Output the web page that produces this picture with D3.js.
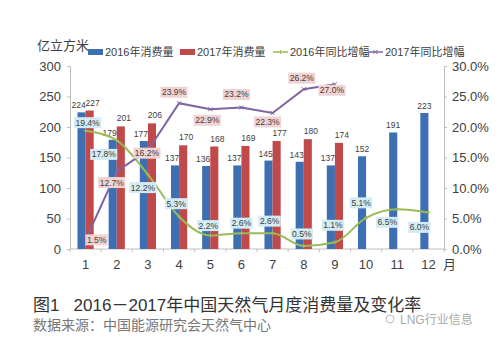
<!DOCTYPE html>
<html>
<head>
<meta charset="utf-8">
<script src="https://cdn.jsdelivr.net/npm/d3@7"></script>
<style>
  body { margin: 0; background: #fff; }
  text { font-family: "Liberation Sans", "Noto Sans CJK SC", sans-serif; }
</style>
</head>
<body>
<script>
var months = ["1", "2", "3", "4", "5", "6", "7", "8", "9", "10", "11", "12"];
var use2016 = [224, 179, 177, 137, 136, 137, 145, 143, 137, 152, 191, 223];
var use2017 = [227, 201, 206, 170, 168, 169, 177, 180, 174];
var growth2016 = [19.4, 17.8, 12.2, 5.3, 2.2, 2.6, 2.6, 0.5, 1.1, 5.1, 6.5, 6.0];
var growth2017 = [1.5, 12.7, 16.2, 23.9, 22.9, 23.2, 22.3, 26.2, 27.0];
var leftTicks = [0, 50, 100, 150, 200, 250, 300];
var rightTicks = [0, 5, 10, 15, 20, 25, 30];

// label nudges (px) so the boxes don't sit on the lines
var shift2016 = [[2, -8], [-13, 14], [-5, 13], [-3, -13], [-2, -10], [0, -10], [-3, -12], [-2, -12], [-2, -17], [-5, -15], [-10, 13], [-9, 15]];
var shift2017 = [[11, 0], [-5, 11], [-1, 3], [-5, -11], [-3, 11], [-5, -13], [-5, 9], [-2, -11], [-3, 6]];

var svgWidth = 500;
var svgHeight = 340;
var margin = { top: 66, right: 56, bottom: 91, left: 70 };
var chartWidth = svgWidth - margin.left - margin.right;
var chartHeight = svgHeight - margin.top - margin.bottom;

var blue = "#3e6fb3";
var red = "#c0494a";
var green = "#9bbb59";
var purple = "#8064a2";

var svg = d3.select("body")
    .append("svg")
    .attr("width", svgWidth)
    .attr("height", svgHeight);

var chartGroup = svg.append("g")
    .attr("transform", `translate(${margin.left}, ${margin.top})`);

var x = d3.scaleBand()
    .domain(months)
    .range([0, chartWidth]);

var xSub = d3.scaleBand()
    .domain(["a", "b"])
    .range([x.bandwidth() * 0.24, x.bandwidth() * 0.76]);

var yLeft = d3.scaleLinear().domain([0, 300]).range([chartHeight, 0]);
var yRight = d3.scaleLinear().domain([0, 30]).range([chartHeight, 0]);

// axes
var leftAxis = d3.axisLeft(yLeft).tickValues(leftTicks).tickSize(3).tickPadding(6);
var rightAxis = d3.axisRight(yRight).tickValues(rightTicks).tickSize(3).tickPadding(5)
    .tickFormat(d => d.toFixed(1) + "%");

chartGroup.append("g").attr("class", "axis").call(leftAxis);
chartGroup.append("g").attr("class", "axis")
    .attr("transform", `translate(${chartWidth}, 0)`)
    .call(rightAxis);

var bottom = chartGroup.append("g").attr("class", "axis")
    .attr("transform", `translate(0, ${chartHeight})`);
bottom.append("line").attr("x1", 0).attr("x2", chartWidth).attr("stroke", "#bfbfbf");
bottom.selectAll("line.tk")
    .data(d3.range(months.length + 1))
    .enter().append("line")
    .attr("class", "tk")
    .attr("x1", i => i * x.step()).attr("x2", i => i * x.step())
    .attr("y1", 0).attr("y2", 3)
    .attr("stroke", "#bfbfbf");
bottom.selectAll("text")
    .data(months)
    .enter().append("text")
    .attr("x", d => x(d) + x.bandwidth() / 2)
    .attr("y", 20)
    .attr("text-anchor", "middle")
    .attr("font-size", 13)
    .attr("fill", "#404040")
    .text(d => d);
bottom.append("text")
    .attr("x", chartWidth - 1)
    .attr("y", 20)
    .attr("font-size", 13)
    .attr("fill", "#404040")
    .text("月");

chartGroup.selectAll(".axis path").attr("stroke", "#bfbfbf");
chartGroup.selectAll(".axis .tick line").attr("stroke", "#bfbfbf");
chartGroup.selectAll(".axis .tick text")
    .attr("font-size", 13)
    .attr("fill", "#404040")
    .attr("font-family", "Liberation Sans, sans-serif");

// bars
chartGroup.selectAll("rect.b16")
    .data(use2016)
    .enter().append("rect")
    .attr("class", "b16")
    .attr("x", (d, i) => x(months[i]) + xSub("a"))
    .attr("y", d => yLeft(d))
    .attr("width", xSub.bandwidth())
    .attr("height", d => chartHeight - yLeft(d))
    .attr("fill", blue);

chartGroup.selectAll("rect.b17")
    .data(use2017)
    .enter().append("rect")
    .attr("class", "b17")
    .attr("x", (d, i) => x(months[i]) + xSub("b"))
    .attr("y", d => yLeft(d))
    .attr("width", xSub.bandwidth())
    .attr("height", d => chartHeight - yLeft(d))
    .attr("fill", red);

chartGroup.selectAll("text.v16")
    .data(use2016)
    .enter().append("text")
    .attr("class", "v16")
    .attr("x", (d, i) => x(months[i]) + xSub("a") + xSub.bandwidth() / 2 - (i < 9 ? 3 : 0))
    .attr("y", d => yLeft(d) - 4)
    .attr("text-anchor", "middle")
    .attr("font-size", 8.5)
    .attr("fill", "#404040")
    .text(d => d);

chartGroup.selectAll("text.v17")
    .data(use2017)
    .enter().append("text")
    .attr("class", "v17")
    .attr("x", (d, i) => x(months[i]) + xSub("b") + xSub.bandwidth() / 2 + 3)
    .attr("y", d => yLeft(d) - 5)
    .attr("text-anchor", "middle")
    .attr("font-size", 8.5)
    .attr("fill", "#404040")
    .text(d => d);

// lines
var cx = i => x(months[i]) + x.bandwidth() / 2;

chartGroup.append("path")
    .datum(growth2016)
    .attr("d", d3.line().x((d, i) => cx(i)).y(d => yRight(d)).curve(d3.curveMonotoneX))
    .attr("fill", "none")
    .attr("stroke", green)
    .attr("stroke-width", 2);

chartGroup.append("path")
    .datum(growth2017)
    .attr("d", d3.line().x((d, i) => cx(i)).y(d => yRight(d)))
    .attr("fill", "none")
    .attr("stroke", purple)
    .attr("stroke-width", 2);

chartGroup.selectAll("path.m16")
    .data(growth2016)
    .enter().append("path")
    .attr("class", "m16")
    .attr("d", (d, i) => `M${cx(i) - 2},${yRight(d)}h4M${cx(i)},${yRight(d) - 2}v4`)
    .attr("stroke", green)
    .attr("stroke-width", 1);

chartGroup.selectAll("path.m17")
    .data(growth2017)
    .enter().append("path")
    .attr("class", "m17")
    .attr("d", (d, i) => `M${cx(i) - 2},${yRight(d) - 2}l4,4M${cx(i) - 2},${yRight(d) + 2}l4,-4`)
    .attr("stroke", purple)
    .attr("stroke-width", 1);

// boxed percentage labels
function boxLabels(values, shifts, bg) {
    var g = chartGroup.append("g");
    values.forEach(function(v, i) {
        var px = cx(i) + shifts[i][0];
        var py = yRight(v) + shifts[i][1];
        var t = g.append("text")
            .attr("x", px)
            .attr("y", py + 3)
            .attr("text-anchor", "middle")
            .attr("font-size", 8.5)
            .attr("fill", "#404040")
            .text(v.toFixed(1) + "%");
        var w = t.node().getComputedTextLength() + 3;
        g.insert("rect", "text")
            .attr("x", px - w / 2)
            .attr("y", py - 5.5)
            .attr("width", w)
            .attr("height", 11)
            .attr("fill", bg);
    });
}
boxLabels(growth2016, shift2016, "#d3ebf2");
boxLabels(growth2017, shift2017, "#f2d3d3");

// unit + legend
svg.append("text")
    .attr("x", 37).attr("y", 50)
    .attr("font-size", 13)
    .attr("fill", "#404040")
    .text("亿立方米");

var legendItems = [
    { name: "2016年消费量", color: blue, type: "bar", x: 88 },
    { name: "2017年消费量", color: red, type: "bar", x: 180 },
    { name: "2016年同比增幅", color: green, type: "line", x: 273 },
    { name: "2017年同比增幅", color: purple, type: "linex", x: 368 }
];
var legend = svg.selectAll("g.legend")
    .data(legendItems)
    .enter().append("g")
    .attr("transform", d => `translate(${d.x}, 52)`);
legend.filter(d => d.type == "bar").append("rect")
    .attr("x", 0).attr("y", -3).attr("width", 15).attr("height", 6)
    .attr("fill", d => d.color);
legend.filter(d => d.type != "bar").append("line")
    .attr("x1", 0).attr("x2", 15)
    .attr("stroke", d => d.color).attr("stroke-width", 1.5);
legend.filter(d => d.type == "line").append("path")
    .attr("d", "M7.5,-2v4").attr("stroke", d => d.color);
legend.filter(d => d.type == "linex").append("path")
    .attr("d", "M5.5,-2l4,4M5.5,2l4,-4").attr("stroke", d => d.color);
legend.append("text")
    .attr("x", 17).attr("y", 4)
    .attr("font-size", 11)
    .attr("fill", "#404040")
    .text(d => d.name);

// title + source
svg.append("text")
    .attr("x", 33).attr("y", 311)
    .attr("font-size", 17)
    .attr("fill", "#333")
    .attr("xml:space", "preserve")
    .text("图1   2016－2017年中国天然气月度消费量及变化率");

svg.append("text")
    .attr("x", 33).attr("y", 330)
    .attr("font-size", 14)
    .attr("fill", "#777")
    .text("数据来源：中国能源研究会天然气中心");

svg.append("text")
    .attr("x", 400).attr("y", 324)
    .attr("font-size", 12)
    .attr("fill", "#aaa")
    .text("LNG行业信息");
svg.append("circle").attr("cx", 390).attr("cy", 319).attr("r", 4)
    .attr("fill", "none").attr("stroke", "#bbb");
</script>
</body>
</html>
